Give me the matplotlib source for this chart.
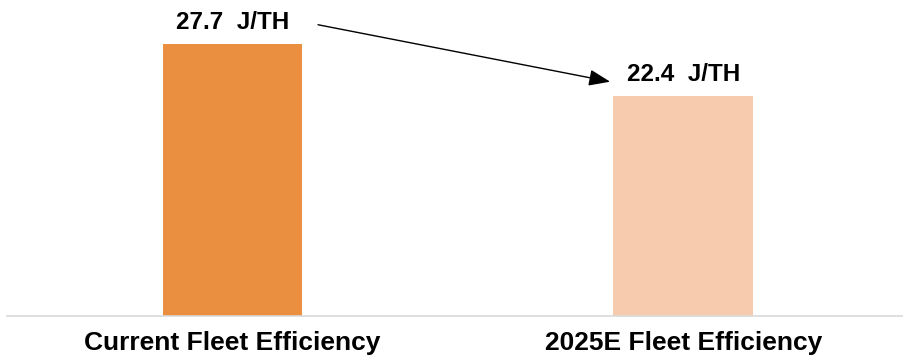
import matplotlib
matplotlib.use('Agg')
import matplotlib.pyplot as plt

categories = ['Current Fleet Efficiency', '2025E Fleet Efficiency']
values = [27.7, 22.4]
value_labels = ['27.7  J/TH', '22.4  J/TH']
colors = ['#EA8F3F', '#F7CBAD']


def main():
    plt.rcParams['font.family'] = ['Liberation Sans', 'DejaVu Sans']

    f = plt.figure(figsize=(9.04, 3.62), dpi=100)
    ax = f.add_axes([7 / 904, 46 / 362, 897 / 904, 316 / 362])

    x = list(range(len(categories)))
    ax.bar(x, values, width=0.31, color=colors, zorder=2)

    # value labels above the bars
    for xi, v, lab in zip(x, values, value_labels):
        ax.text(xi, v + 1.55, lab, ha='center', va='baseline',
                fontsize=17.5, fontweight='bold', color='black')

    # arrow from the first label towards the second
    ax.annotate('', xy=(0.838, 23.86), xytext=(0.19, 29.66),
                arrowprops=dict(arrowstyle='-|>,head_length=1.3,head_width=0.5',
                                color='black', lw=1.0, shrinkA=0, shrinkB=0))

    ax.set_xlim(-0.5, 1.49)
    ax.set_ylim(0, 32.18)

    ax.set_xticks(x)
    ax.set_xticklabels(categories, fontsize=19, fontweight='bold')
    ax.tick_params(axis='x', length=0, pad=10.5)
    ax.set_yticks([])

    for s in ['top', 'right', 'left']:
        ax.spines[s].set_visible(False)
    ax.spines['bottom'].set_color('#D9D9D9')
    ax.spines['bottom'].set_linewidth(1.2)

    f.savefig('out.png', dpi=100)


if __name__ == '__main__':
    main()
